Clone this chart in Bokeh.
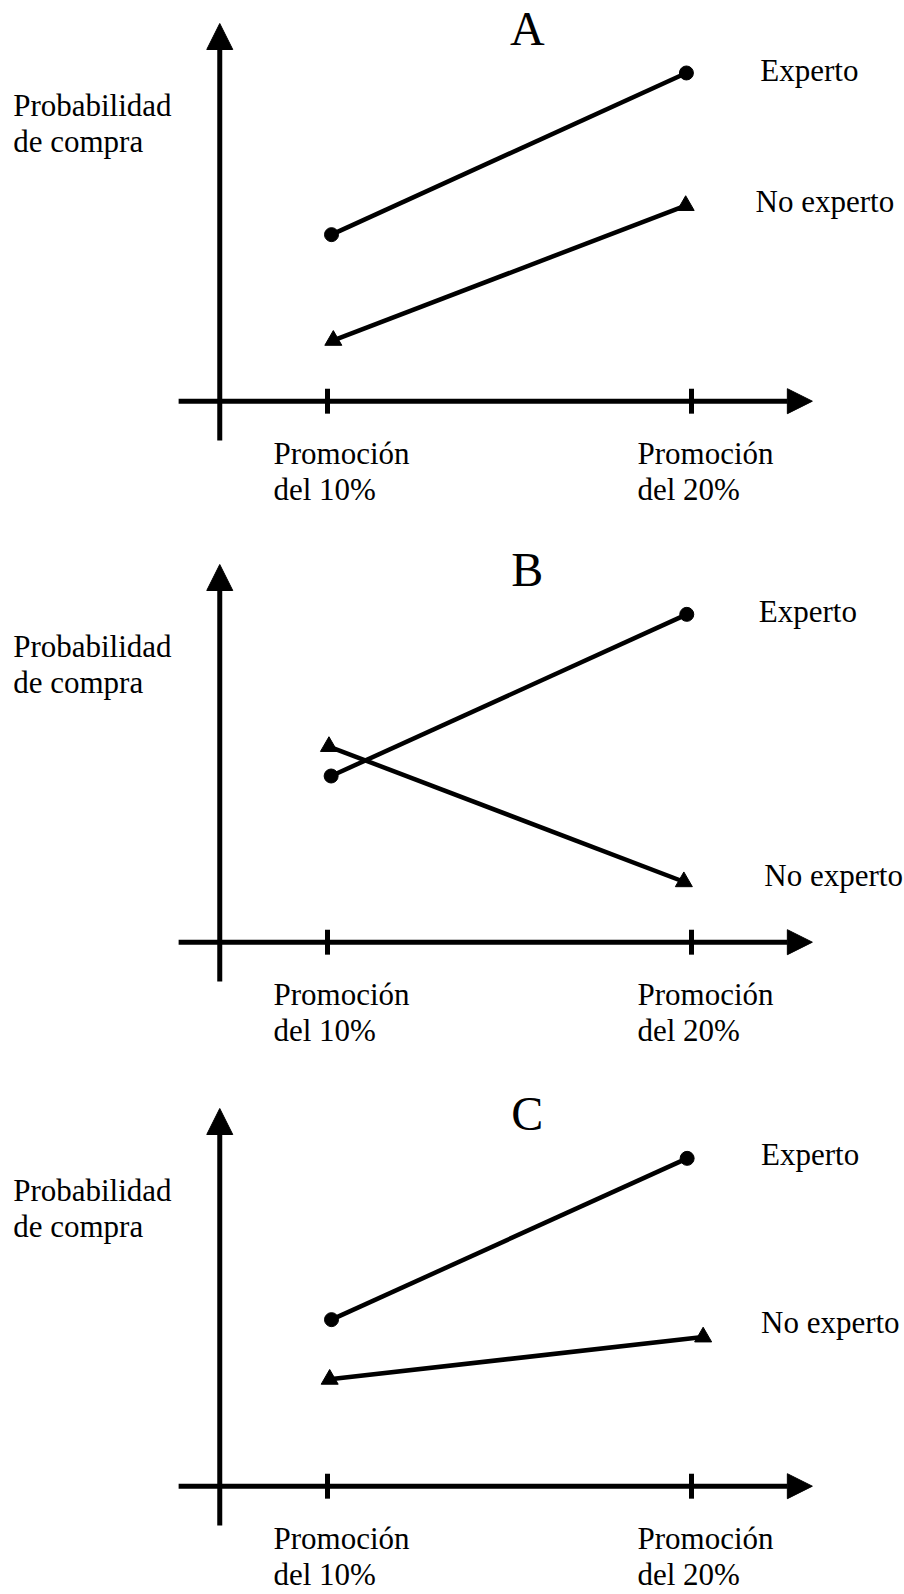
from bokeh.plotting import figure
from bokeh.models import Arrow, NormalHead, Range1d
from bokeh.layouts import column
from bokeh.core.properties import value
from bokeh.embed import file_html
from bokeh.resources import INLINE

# ---------------- data ----------------
panel_titles = ["A", "B", "C"]
promo_levels = [10, 20]                      # % promotion (x categories)
tick_line1 = ["Promoción", "Promoción"]
tick_line2 = ["del 10%", "del 20%"]
y_label_lines = ["Probabilidad", "de compra"]
series_names = ["Experto", "No experto"]

# purchase probability (arbitrary units)
a_experto_x = [10.11, 19.86]
a_experto_y = [4.41, 8.69]
a_noexp_x = [10.16, 19.84]
a_noexp_y = [1.61, 5.18]

b_experto_x = [10.10, 19.87]
b_experto_y = [4.40, 8.68]
b_noexp_x = [10.04, 19.79]
b_noexp_y = [5.18, 1.60]

c_experto_x = [10.11, 19.88]
c_experto_y = [4.41, 8.68]
c_noexp_x = [10.06, 20.32]
c_noexp_y = [2.83, 3.95]

# ---------------- layout / style ----------------
W = 904
HEIGHTS = [541, 544, 507]
PX_X = 36.4
PX_Y = 37.77
X_START = 10 - 327 / PX_X
Y_TOP = 400.7 / PX_Y
FONT = value("Liberation Serif")
FS = "31px"
ADJ = 0.335 * 31 / PX_Y        # baseline correction for 31px text
ADJ_T = 0.335 * 48 / PX_Y      # baseline correction for 48px title

series_data = [
    (a_experto_x, a_experto_y, a_noexp_x, a_noexp_y),
    (b_experto_x, b_experto_y, b_noexp_x, b_noexp_y),
    (c_experto_x, c_experto_y, c_noexp_x, c_noexp_y),
]
# label anchor positions (layout)
exp_label_pos = [(21.89, 8.48), (21.85, 8.48), (21.91, 8.50)]
noexp_label_pos = [(21.76, 5.00), (22.00, 1.48), (21.91, 4.05)]


def txt(p, x, y, t, size=FS, align="left"):
    p.text(x=x, y=y, text=t, text_font=FONT, text_font_size=size,
           text_align=align, text_baseline="alphabetic", text_color="black")


def make_panel(i):
    h = HEIGHTS[i]
    p = figure(width=W, height=h, output_backend="svg", toolbar_location=None,
               x_axis_type=None, y_axis_type=None,
               x_range=Range1d(X_START, X_START + W / PX_X),
               y_range=Range1d(Y_TOP - h / PX_Y, Y_TOP),
               min_border=0, outline_line_color=None,
               background_fill_color="white", border_fill_color="white")
    p.grid.visible = False

    # axes drawn as arrows
    p.add_layout(Arrow(end=NormalHead(size=26, fill_color="black", line_color="black", line_width=1),
                       x_start=7.04, y_start=-1.04, x_end=7.04, y_end=10.0,
                       line_width=5, line_color="black"))
    p.add_layout(Arrow(end=NormalHead(size=25, fill_color="black", line_color="black", line_width=1),
                       x_start=5.91, y_start=0, x_end=23.32, y_end=0,
                       line_width=5, line_color="black"))
    # ticks
    p.segment(x0=promo_levels, y0=[-0.33] * 2, x1=promo_levels, y1=[0.33] * 2,
              line_width=5, line_color="black")

    # tick labels
    lx = [v - 54 / PX_X for v in promo_levels]
    txt(p, lx, [-1.65 + ADJ] * 2, tick_line1)
    txt(p, lx, [-2.60 + ADJ] * 2, tick_line2)

    # y label
    txt(p, [1.365] * 2, [7.56 + ADJ, 6.59 + ADJ], y_label_lines)

    # title
    txt(p, [15.49], [9.45 + ADJ_T], [panel_titles[i]], size="48px", align="center")

    ex, ey, nx, ny = series_data[i]
    p.line(ex, ey, line_width=4.5, line_color="black")
    p.scatter(ex, ey, marker="circle", size=14, fill_color="black", line_color="black")
    p.line(nx, ny, line_width=4.5, line_color="black")
    p.scatter(nx, ny, marker="triangle", size=17, fill_color="black", line_color="black")

    txt(p, [exp_label_pos[i][0]], [exp_label_pos[i][1] + ADJ], [series_names[0]])
    txt(p, [noexp_label_pos[i][0]], [noexp_label_pos[i][1] + ADJ], [series_names[1]])
    return p


layout = column(*[make_panel(i) for i in range(3)], spacing=0)
open("out.html", "w").write(file_html(layout, INLINE))
